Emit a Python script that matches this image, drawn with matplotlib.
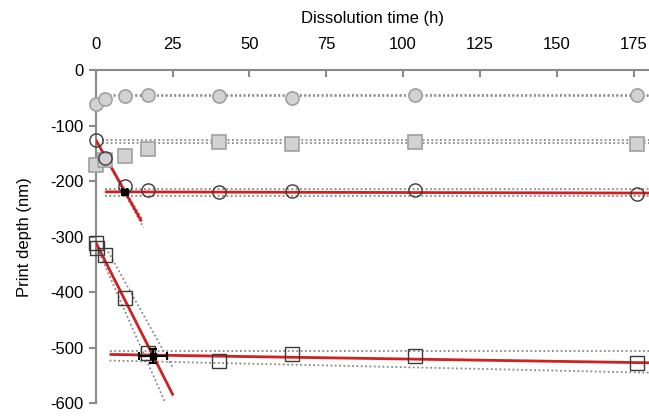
import matplotlib
matplotlib.use("Agg")
import matplotlib.pyplot as plt
import numpy as np

plt.rcParams['font.family'] = ['Liberation Sans', 'DejaVu Sans']
plt.rcParams['axes.unicode_minus'] = False

# dissolution times (h)
t = [0, 3, 9.5, 17, 40, 64, 104, 176]
# print depth (nm) for each sample
s1_gray_circ = [-60, -52, -46, -45, -47, -49, -45, -45]
s2_gray_sq = [-170, -161, -155, -141, -130, -132, -130, -133]
s3_open_circ = [-125, -158, -209, -216, -220, -218, -216, -222]
t4 = [0, 0.5, 3, 9.5, 17, 40, 64, 104, 176]
s4_open_sq = [-312, -320, -333, -410, -510, -524, -512, -515, -528]

# fitted lines: (x start, x end, intercept, slope)
fit_red = [
    (0, 14.9, -125, -9.87),
    (3, 180, -219, -0.012),
    (0, 25.2, -310, -10.95),
    (4.5, 180, -511.6, -0.0855),
]
# confidence bands (dotted): (x start, x end, intercept, slope)
bands = [
    (3, 180, -44, 0.0), (3, 180, -47, 0.0),
    (2, 180, -126, 0.0), (2, 180, -131, 0.0),
    (4, 15, -125, -9.5), (4, 15.5, -125, -10.2),
    (3, 180, -213, 0.0), (3, 180, -226, 0.0),
    (0, 23.6, -314, -12.6), (4, 25.2, -287, -9.9),
    (4.5, 180, -506, 0.0), (4.5, 180, -522.4, -0.125),
]
# intersections with error bars: x, y, xerr, yerr
cross_x = [9.5, 18.7]
cross_y = [-219, -515]
cross_xerr = [0.8, 4.5]
cross_yerr = [3, 12]

fig = plt.figure(figsize=(6.49, 4.2), dpi=100)
ax = fig.add_axes([0.1475, 0.0398, 0.8525, 0.7928])

for x0, x1, b, m in bands:
    xs = np.array([x0, x1])
    ax.plot(xs, b + m * xs, color='#8a8a8a', lw=1.3, ls=(0, (1, 1.4)), zorder=2)

for x0, x1, b, m in fit_red:
    xs = np.array([x0, x1])
    ax.plot(xs, b + m * xs, color='#d02020', lw=2, zorder=3, solid_capstyle='butt')

ax.plot(t, s1_gray_circ, 'o', ms=9.5, mfc='#d2d2d2', mec='#a0a0a0', mew=1.2,
        ls='none', clip_on=False, zorder=4)
ax.plot(t, s2_gray_sq, 's', ms=9.5, mfc='#d2d2d2', mec='#a0a0a0', mew=1.2,
        ls='none', clip_on=False, zorder=4)
ax.plot(t, s3_open_circ, 'o', ms=9.5, mfc='none', mec='#3a3a3a', mew=1.0,
        ls='none', clip_on=False, zorder=5)
ax.plot(t4, s4_open_sq, 's', ms=9.5, mfc='none', mec='#3a3a3a', mew=1.0,
        ls='none', clip_on=False, zorder=5)

ax.errorbar(cross_x, cross_y, xerr=cross_xerr, yerr=cross_yerr, fmt='s', ms=4,
            color='black', ecolor='black', elinewidth=1.5, capsize=3, capthick=1.5, zorder=6)

ax.set_xlim(0, 180)
ax.set_ylim(-600, 0)
ax.set_xticks([0, 25, 50, 75, 100, 125, 150, 175])
ax.set_yticks([0, -100, -200, -300, -400, -500, -600])

ax.xaxis.set_ticks_position('top')
ax.xaxis.set_label_position('top')
for sp in ['bottom', 'right']:
    ax.spines[sp].set_visible(False)
for sp in ['top', 'left']:
    ax.spines[sp].set_color('#8a8a8a')
    ax.spines[sp].set_linewidth(1.5)

ax.tick_params(axis='x', direction='in', length=5, width=1.5, color='#8a8a8a',
               labelsize=12, pad=13)
ax.tick_params(axis='y', direction='out', length=5, width=1.5, color='#8a8a8a',
               labelsize=12, pad=4)

ax.set_xlabel('Dissolution time (h)', fontsize=12, labelpad=10)
ax.set_ylabel('Print depth (nm)', fontsize=12, labelpad=13)

fig.savefig('out.png', dpi=100)
